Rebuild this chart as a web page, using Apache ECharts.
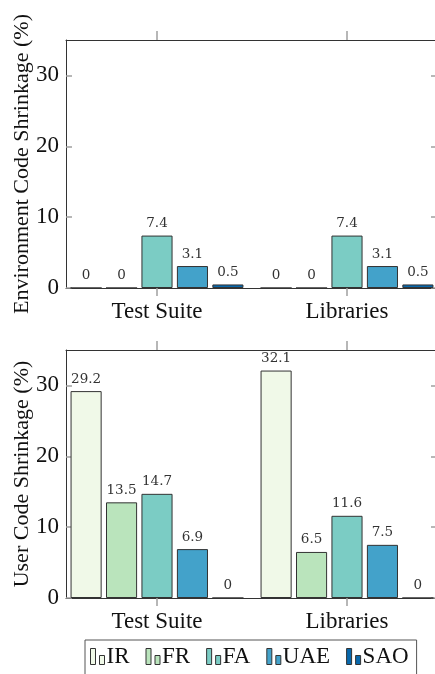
<!DOCTYPE html>
<html>
<head>
<meta charset="utf-8">
<script src="https://cdn.jsdelivr.net/npm/echarts@6/dist/echarts.min.js"></script>
<style>
html,body{margin:0;padding:0;background:#fff;}
#chart{width:435px;height:674px;}
</style>
</head>
<body>
<div id="chart"></div>
<script>
const categories = ['Test Suite', 'Libraries'];
const seriesNames = ['IR', 'FR', 'FA', 'UAE', 'SAO'];
const colors = ['#f0f9e8', '#bae4bc', '#7bccc4', '#43a2ca', '#0868ac'];

// Environment code shrinkage (%)
const envIR = [0, 0];
const envFR = [0, 0];
const envFA = [7.4, 7.4];
const envUAE = [3.1, 3.1];
const envSAO = [0.5, 0.5];

// User code shrinkage (%)
const userIR = [29.2, 32.1];
const userFR = [13.5, 6.5];
const userFA = [14.7, 11.6];
const userUAE = [6.9, 7.5];
const userSAO = [0, 0];

const yTicks = [0, 10, 20, 30];
const yMax = 35;

const envData = [envIR, envFR, envFA, envUAE, envSAO];
const userData = [userIR, userFR, userFA, userUAE, userSAO];

const FONT = 'Liberation Serif';
const tickGray = '#a0a0a0';
const lineColor = '#333';

const catIdx = categories.map((c, i) => i);
const xMin = -91 / 190, xMax = 1 + 90 / 190;

function xAxisBottom(gi) {
  return {
    gridIndex: gi, type: 'value', position: 'bottom', min: xMin, max: xMax,
    splitLine: {show: false},
    axisLine: {show: true, onZero: false, lineStyle: {color: lineColor, width: 1}},
    axisTick: {show: true, inside: false, length: 8, lineStyle: {color: tickGray, width: 1.5}, customValues: catIdx},
    axisLabel: {show: true, margin: 12, fontFamily: FONT, fontSize: 23, color: '#111',
      customValues: catIdx, formatter: v => categories[Math.round(v)] || ''}
  };
}
function xAxisTop(gi) {
  return {
    gridIndex: gi, type: 'value', position: 'top', min: xMin, max: xMax,
    splitLine: {show: false},
    axisLine: {show: true, onZero: false, lineStyle: {color: lineColor, width: 1}},
    axisTick: {show: true, inside: false, length: 9, lineStyle: {color: tickGray, width: 1.5}, customValues: catIdx},
    axisLabel: {show: false}
  };
}
function yAxisLeft(gi, name) {
  return {
    gridIndex: gi, type: 'value', position: 'left', min: 0, max: yMax,
    name: name, nameLocation: 'middle', nameGap: 33, nameRotate: 90, nameMoveOverlap: false,
    nameTextStyle: {fontFamily: FONT, fontSize: 22, color: '#111'},
    splitLine: {show: false},
    axisLine: {show: true, onZero: false, lineStyle: {color: lineColor, width: 1}},
    axisTick: {show: true, inside: true, length: 6, lineStyle: {color: tickGray, width: 1.5}, customValues: yTicks},
    axisLabel: {show: true, margin: 7, fontFamily: FONT, fontSize: 23, color: '#111', customValues: yTicks}
  };
}
function yAxisRight(gi) {
  return {
    gridIndex: gi, type: 'value', position: 'right', min: 0, max: yMax,
    splitLine: {show: false},
    axisLine: {show: true, onZero: false, lineStyle: {color: lineColor, width: 1}},
    axisTick: {show: true, inside: true, length: 6, lineStyle: {color: tickGray, width: 1.5}, customValues: yTicks},
    axisLabel: {show: false}
  };
}

const series = [];
[envData, userData].forEach((group, gi) => {
  group.forEach((vals, si) => {
    series.push({
      type: 'bar', name: seriesNames[si],
      xAxisIndex: gi * 2, yAxisIndex: gi * 2,
      data: vals.map((v, ci) => [catIdx[ci], v]),
      barGap: '14%', barCategoryGap: '9%',
      itemStyle: {color: colors[si], borderColor: '#333', borderWidth: 1},
      label: {show: true, position: 'top', distance: 5, fontFamily: 'DejaVu Serif', fontSize: 13.5, color: '#333',
        formatter: p => String(p.value[1])},
      emphasis: {disabled: true}, animation: false
    });
  });
});

const option = {
  animation: false,
  grid: [
    {left: 66, top: 40, width: 371, height: 248, outerBoundsMode: 'none', containLabel: false},
    {left: 66, top: 350, width: 371, height: 248, outerBoundsMode: 'none', containLabel: false}
  ],
  xAxis: [xAxisBottom(0), xAxisTop(0), xAxisBottom(1), xAxisTop(1)],
  yAxis: [
    yAxisLeft(0, 'Environment Code Shrinkage (%)'), yAxisRight(0),
    yAxisLeft(1, 'User Code Shrinkage (%)'), yAxisRight(1)
  ],
  legend: {
    data: seriesNames, left: 85, top: 640, orient: 'horizontal',
    padding: [5, 8, 12, 5], itemGap: 16, itemWidth: 14, itemHeight: 16,
    icon: 'path://M0,0H5V16H0Z M9,7H14V16H9Z',
    itemStyle: {borderColor: '#333', borderWidth: 1},
    borderColor: '#555', borderWidth: 1, backgroundColor: '#fff',
    textStyle: {fontFamily: FONT, fontSize: 23, color: '#111', padding: [0, 0, 0, -3]},
    selectedMode: false
  },
  series: series
};

const chart = echarts.init(document.getElementById('chart'), null, {renderer: 'canvas'});
chart.setOption(option);
</script>
</body>
</html>
